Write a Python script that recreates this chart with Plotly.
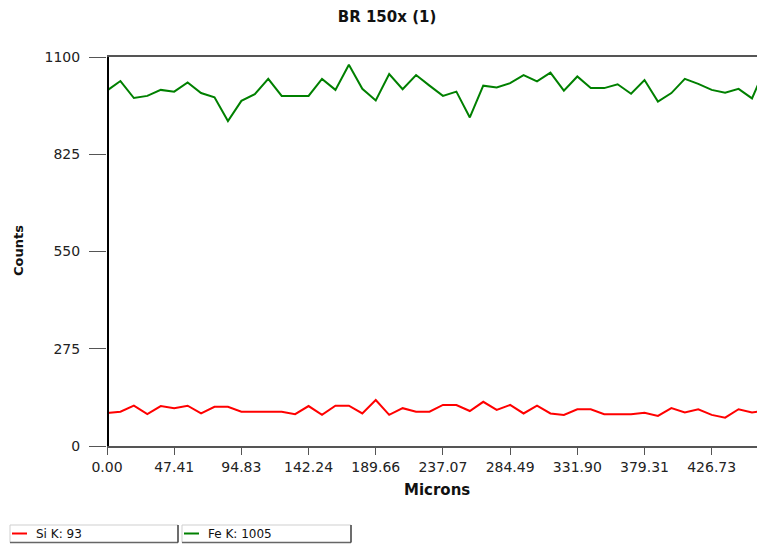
import plotly.graph_objects as go

# Line-scan profile: counts per element along the scan (51 equally spaced points)
scan_length = 474.143          # microns covered by the scan
n_points = 51
si_counts = [93, 97, 114, 90, 113, 107, 114, 92, 111, 111, 97, 97, 97, 97, 90,
             113, 88, 114, 114, 92, 130, 88, 107, 97, 97, 116, 116, 99, 125, 102,
             116, 92, 114, 92, 88, 104, 104, 90, 90, 90, 94, 85, 107, 95, 104,
             88, 80, 104, 95, 100, 95]
fe_counts = [1005, 1032, 984, 990, 1007, 1002, 1028, 998, 986, 919, 976, 995,
             1038, 990, 990, 990, 1038, 1007, 1078, 1010, 977, 1052, 1009, 1049,
             1019, 990, 1002, 929, 1019, 1014, 1026, 1049, 1031, 1056, 1005, 1045,
             1012, 1012, 1023, 996, 1035, 974, 998, 1038, 1024, 1007, 999, 1010,
             983, 1070, 1040]
x_tick_labels = ["0.00", "47.41", "94.83", "142.24", "189.66", "237.07",
                 "284.49", "331.90", "379.31", "426.73"]
y_tick_vals = [0, 275, 550, 825, 1100]

W, H = 757, 546
L, R, T, B = 107, 0, 57, 100
PW, PH = W - L - R, H - T - B


def px_x(p):
    return (p - L) / PW


def px_y(p):
    return (H - B - p) / PH


step = scan_length / (n_points - 1)

fig = go.Figure()
fig.add_trace(go.Scatter(y=si_counts, x0=0, dx=step, mode="lines",
                         line=dict(color="#ff0000", width=2), name="Si K"))
fig.add_trace(go.Scatter(y=fe_counts, x0=0, dx=step, mode="lines",
                         line=dict(color="#008000", width=2), name="Fe K"))

tick_font = dict(family="DejaVu Sans", size=14, color="#222222")

fig.update_layout(
    width=W, height=H,
    margin=dict(l=L, r=R, t=T, b=B, pad=0),
    paper_bgcolor="white", plot_bgcolor="white",
    showlegend=False,
    title=dict(text="<b>BR 150x (1)</b>", x=387 / W, xanchor="center",
               y=1 - 17 / H, yanchor="middle",
               font=dict(family="DejaVu Sans", size=15, color="#111111")),
    xaxis=dict(range=[0, 458.7], tickvals=[float(t) for t in x_tick_labels],
               ticktext=x_tick_labels, ticks="outside", ticklen=7, tickwidth=1.3,
               tickcolor="#555555", showline=True, linecolor="#555555",
               linewidth=1.5, mirror=True, showgrid=False, zeroline=False,
               tickfont=tick_font),
    yaxis=dict(range=[0, 1100], tickvals=y_tick_vals, ticks="outside",
               ticklen=17, tickwidth=1.3, tickcolor="#555555", showline=False,
               showgrid=False, zeroline=False, tickfont=tick_font,
               ticklabelstandoff=6),
)

# Thick cursor line at the scan origin
fig.add_shape(type="line", xref="x", yref="y", x0=0, x1=0, y0=0, y1=1100,
              line=dict(color="black", width=4), layer="above")

# Axis titles
fig.add_annotation(text="<b>Microns</b>", xref="paper", yref="paper",
                   x=px_x(436.7), y=px_y(490), xanchor="center", yanchor="middle",
                   showarrow=False,
                   font=dict(family="DejaVu Sans", size=15, color="#111111"))
fig.add_annotation(text="<b>Counts</b>", xref="paper", yref="paper",
                   x=px_x(18), y=px_y(251), xanchor="center", yanchor="middle",
                   textangle=-90, showarrow=False,
                   font=dict(family="DejaVu Sans", size=13, color="#111111"))

# Legend boxes at the bottom: value readout at the cursor position
legend_items = [("Si K", si_counts[0], "#ff0000", 10, 178),
                ("Fe K", fe_counts[0], "#008000", 182, 351)]
top, bot = 525, 542.5
for name, val, col, x0, x1 in legend_items:
    fig.add_shape(type="rect", xref="paper", yref="paper",
                  x0=px_x(x0), x1=px_x(x1), y0=px_y(bot), y1=px_y(top),
                  line=dict(color="#cfcfcf", width=1), fillcolor="white")
    fig.add_shape(type="line", xref="paper", yref="paper",
                  x0=px_x(x0), x1=px_x(x1), y0=px_y(bot), y1=px_y(bot),
                  line=dict(color="#666666", width=1.5))
    fig.add_shape(type="line", xref="paper", yref="paper",
                  x0=px_x(x1), x1=px_x(x1), y0=px_y(bot), y1=px_y(top),
                  line=dict(color="#444444", width=1.5))
    fig.add_shape(type="line", xref="paper", yref="paper",
                  x0=px_x(x0 + 2), x1=px_x(x0 + 17), y0=px_y(533.5), y1=px_y(533.5),
                  line=dict(color=col, width=2))
    fig.add_annotation(text=f"{name}: {val}", xref="paper", yref="paper",
                       x=px_x(x0 + 24), y=px_y(533.5), xanchor="left",
                       yanchor="middle", showarrow=False,
                       font=dict(family="DejaVu Sans", size=12, color="#111111"))

fig.write_html("out.html")
